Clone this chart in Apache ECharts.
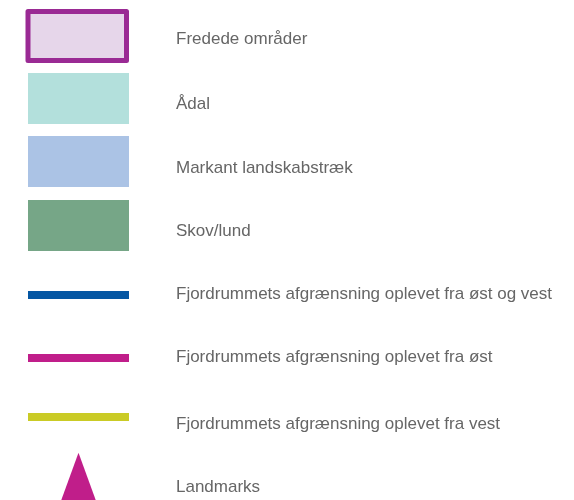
<!DOCTYPE html>
<html>
<head>
<meta charset="utf-8">
<script src="https://cdn.jsdelivr.net/npm/echarts@6/dist/echarts.min.js"></script>
<style>html,body{margin:0;padding:0;background:#fff}#c{width:574px;height:500px}</style>
</head>
<body>
<div id="c"></div>
<script>
// Legend entries
var names = [
  'Fredede områder',
  'Ådal',
  'Markant landskabstræk',
  'Skov/lund',
  'Fjordrummets afgrænsning oplevet fra øst og vest',
  'Fjordrummets afgrænsning oplevet fra øst',
  'Fjordrummets afgrænsning oplevet fra vest',
  'Landmarks'
];
var fillColors = ['#e6d6ea', '#b3e0dc', '#abc3e5', '#76a687', '#0556a3', '#c01e8a', '#cacb25', '#c01e8a'];
var borderColors = ['#9a2a94', null, null, null, null, null, null, null];
var kinds = ['framedArea', 'area', 'area', 'area', 'line', 'line', 'line', 'landmark'];

// icon shapes inside a 101 x 70 legend item box (layout, not data)
var BOX = 'M0,0M101,70';
var iconPaths = [
  BOX + 'M0,11h98.5v49h-98.5z',
  BOX + 'M0,6h101v51h-101z',
  BOX + 'M0,5h101v51h-101z',
  BOX + 'M0,5h101v51h-101z',
  BOX + 'M0,32h101v8h-101z',
  BOX + 'M0,31h101v8h-101z',
  BOX + 'M0,26h101v8h-101z',
  BOX + 'M50.5,1.7L74.5,67.7L26.5,67.7z'
];
// small vertical nudges of each label (layout)
var labelPads = [[7, 0, 0, 42], [4, 0, 0, 42], [4, 0, 0, 42], [2, 0, 0, 42],
                 [0, 0, 0, 42], [0, 0, 2, 42], [4, 0, 0, 42], [2, 0, 0, 42]];

var baseText = { color: '#666666', fontSize: 17, fontFamily: 'Liberation Sans, Arial, sans-serif' };
var rich = {};
labelPads.forEach(function (p, i) {
  rich['t' + i] = Object.assign({ padding: p }, baseText);
});

var legendData = names.map(function (n, i) {
  return {
    name: n,
    icon: 'path://' + iconPaths[i],
    itemStyle: {
      color: fillColors[i],
      borderColor: borderColors[i] || fillColors[i],
      borderWidth: kinds[i] === 'framedArea' ? 5 : 0
    }
  };
});

var chart = echarts.init(document.getElementById('c'), null, { renderer: 'canvas' });
chart.setOption({
  animation: false,
  backgroundColor: '#ffffff',
  legend: {
    orient: 'vertical',
    left: 25.5,
    top: -2,
    height: 600,
    padding: 0,
    itemWidth: 101,
    itemHeight: 70,
    itemGap: -6,
    selectedMode: false,
    formatter: function (name) {
      return '{t' + names.indexOf(name) + '|' + name + '}';
    },
    textStyle: Object.assign({ rich: rich }, baseText),
    data: legendData
  },
  series: [{
    type: 'pie',
    silent: true,
    radius: [0, 0],
    center: [-200, -200],
    label: { show: false },
    labelLine: { show: false },
    data: names.map(function (n, i) {
      return { name: n, value: 1, itemStyle: { color: fillColors[i] } };
    })
  }]
});
</script>
</body>
</html>
